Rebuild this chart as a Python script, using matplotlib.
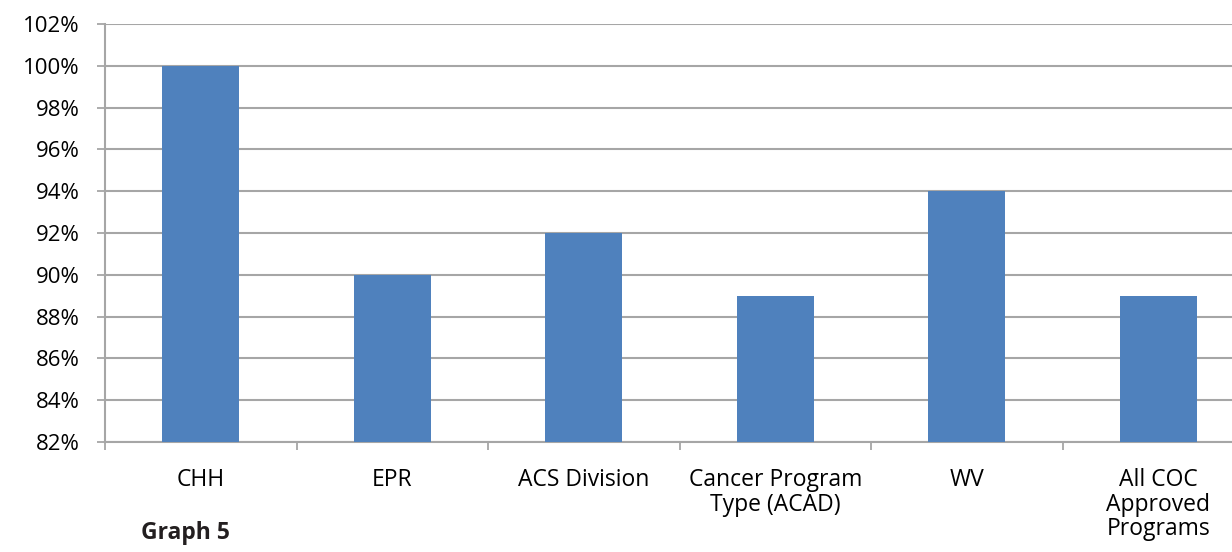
import matplotlib.pyplot as plt
from matplotlib.ticker import FixedLocator, FuncFormatter

categories = ["CHH", "EPR", "ACS Division", "Cancer Program\nType (ACAD)", "WV",
              "All COC\nApproved\nPrograms"]
values = [100, 90, 92, 89, 94, 89]
y_ticks = list(range(82, 103, 2))

plt.rcParams["font.family"] = ["Open Sans", "DejaVu Sans"]

fig = plt.figure(figsize=(12.32, 5.52), dpi=100)
ax = fig.add_axes([105 / 1232, 1 - 442 / 552, 1149 / 1232, 418 / 552])

pos = range(len(categories))
ax.bar(pos, [v - 82 for v in values], bottom=82, width=0.4, color="#4F81BD", zorder=3)

ax.set_xlim(-0.5, len(categories) - 0.5)
ax.set_ylim(82, 102)

grid_col = "#A6A6A6"
ax.set_yticks(y_ticks)
ax.yaxis.set_major_formatter(FuncFormatter(lambda v, p: f"{v:.0f}%"))
ax.grid(axis="y", color=grid_col, linewidth=1.5, zorder=0)
ax.tick_params(axis="y", length=6, width=1.3, color=grid_col, pad=12, labelsize=16, labelcolor="black")

# category labels under the bars, tick marks between categories
ax.set_xticks(list(pos))
ax.set_xticklabels(categories, fontsize=16.5, linespacing=1.02, va="top")
ax.tick_params(axis="x", which="major", length=0, pad=19)
ax.xaxis.set_minor_locator(FixedLocator([i + 0.5 for i in range(-1, len(categories))]))
ax.tick_params(axis="x", which="minor", length=6, width=1.3, color=grid_col, direction="out")

for side in ("top", "right"):
    ax.spines[side].set_visible(False)
for side in ("left", "bottom"):
    ax.spines[side].set_color(grid_col)
    ax.spines[side].set_linewidth(1.5)

fig.text(141 / 1232, 1 - 533 / 552, "Graph 5", fontsize=16.5, fontweight="bold",
         color="#231F20", va="center", ha="left")

fig.savefig("out.png", dpi=100)
